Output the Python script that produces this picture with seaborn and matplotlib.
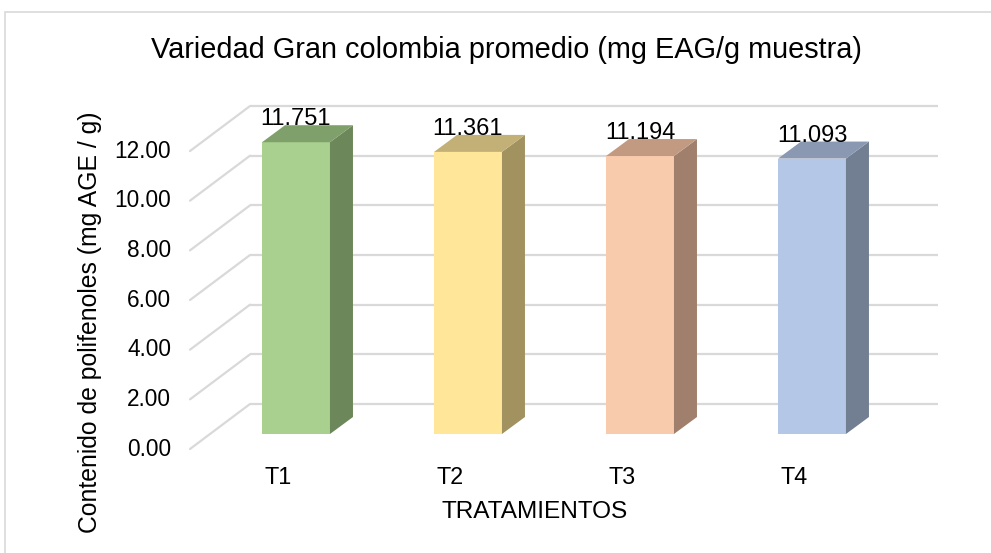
import numpy as np
import pandas as pd
import matplotlib
matplotlib.use("Agg")
import matplotlib.pyplot as plt
import matplotlib.transforms as mtransforms
from matplotlib.patches import Polygon, Rectangle
import seaborn as sns

# ---- data ----
categories = ["T1", "T2", "T3", "T4"]
values = [11.751, 11.361, 11.194, 11.093]
value_labels = ["11.751", "11.361", "11.194", "11.093"]
ytick_values = [0, 2, 4, 6, 8, 10, 12]
ytick_labels = ["0.00", "2.00", "4.00", "6.00", "8.00", "10.00", "12.00"]
title = "Variedad Gran colombia promedio (mg EAG/g muestra)"
xlabel = "TRATAMIENTOS"
ylabel = "Contenido de polifenoles (mg AGE / g)"

front_colors = ["#A9D08E", "#FFE699", "#F8CBAD", "#B4C7E7"]
side_colors = ["#6C8759", "#A19260", "#A0806C", "#727F93"]
top_colors = ["#7F9F6B", "#C2B077", "#C29A82", "#8A98B2"]

sns.set_theme(style="white")
plt.rcParams["font.family"] = ["Liberation Sans", "DejaVu Sans"]
plt.rcParams["text.color"] = "#000000"

W, H = 991, 553
DPI = 100
fig = plt.figure(figsize=(W / DPI, H / DPI), dpi=DPI)

# axes = the plane of the bar front faces
left_px, right_px = 210, 898
zero_px = 434           # y (from top) of value 0 on bar plane
px_per_unit = 24.83
ymax = 13.0
top_px = zero_px - ymax * px_per_unit
ax = fig.add_axes([left_px / W, (H - zero_px) / H,
                   (right_px - left_px) / W, (zero_px - top_px) / H])
ax.patch.set_alpha(0)

df = pd.DataFrame({"cat": categories, "val": values})
sns.barplot(data=df, x="cat", y="val", hue="cat", palette=front_colors,
            width=0.395, legend=False, ax=ax, zorder=3, saturation=1,
            linewidth=0)
ax.set_xlim(-0.5, 3.5)
ax.set_ylim(0, ymax)
ax.set_xticks([])
ax.set_yticks([])
ax.set_xlabel("")
ax.set_ylabel("")
for s in ax.spines.values():
    s.set_visible(False)

def off(dx, dy):
    return ax.transData + mtransforms.ScaledTranslation(dx / DPI, dy / DPI, fig.dpi_scale_trans)

# depth geometry (pixels, display coords: y up)
FRONT = (-20, -15)
BACK = (40, 30)
BAR_D = (23, 17)

grid_c = "#D9D9D9"
fig.canvas.draw()
inv = ax.transData.inverted()
for v, lab in zip(ytick_values, ytick_labels):
    ax.plot([-0.5, 3.5], [v, v], color=grid_c, lw=1.6, transform=off(*BACK),
            zorder=1, clip_on=False, solid_capstyle="butt")
    p = ax.transData.transform((-0.5, v))
    a = inv.transform((p[0] + FRONT[0], p[1] + FRONT[1]))
    b = inv.transform((p[0] + BACK[0], p[1] + BACK[1]))
    ax.plot([a[0], b[0]], [a[1], b[1]], color=grid_c, lw=1.6, zorder=1,
            clip_on=False)
    ax.text(-0.5, v, lab, transform=off(FRONT[0] - 19, FRONT[1]),
            ha="right", va="center", fontsize=16.3, color="#000000")

# 3D faces of bars
bars = [p for p in ax.patches if isinstance(p, Rectangle)]
bars = sorted(bars, key=lambda r: r.get_x())
for i, r in enumerate(bars):
    x0, x1 = r.get_x(), r.get_x() + r.get_width()
    y0, y1 = 0, r.get_height()
    def shifted(x, y):
        q = ax.transData.transform((x, y))
        return tuple(inv.transform((q[0] + BAR_D[0], q[1] + BAR_D[1])))
    side = [(x1, y0), shifted(x1, y0), shifted(x1, y1), (x1, y1)]
    top = [(x0, y1), (x1, y1), shifted(x1, y1), shifted(x0, y1)]
    ax.add_patch(Polygon(side, closed=True, facecolor=side_colors[i], edgecolor="none", zorder=3, clip_on=False))
    ax.add_patch(Polygon(top, closed=True, facecolor=top_colors[i], edgecolor="none", zorder=3, clip_on=False))
    ax.text(r.get_x() + r.get_width() / 2, r.get_height(), value_labels[i],
            transform=off(0, 17), ha="center", va="baseline", fontsize=17,
            color="#000000", zorder=5)
    ax.text(r.get_x() + r.get_width() / 2, 0, categories[i],
            transform=off(-18, -43), ha="center", va="center", fontsize=16.8,
            color="#000000")

fig.text(535 / W, 1 - 512 / H, xlabel, ha="center", va="center", fontsize=17.6)
fig.text(90 / W, 1 - 322 / H, ylabel, ha="center", va="center", rotation=90, fontsize=17.8)
fig.text(506 / W, 1 - 50 / H, title, ha="center", va="center", fontsize=20.8)

# chart border
fig.add_artist(Rectangle((4.5 / W, -0.1), 1.2, (H - 12.5) / H + 0.1,
                         transform=fig.transFigure, fill=False,
                         edgecolor="#D9D9D9", lw=1.2))

fig.savefig("out.png", dpi=DPI)
